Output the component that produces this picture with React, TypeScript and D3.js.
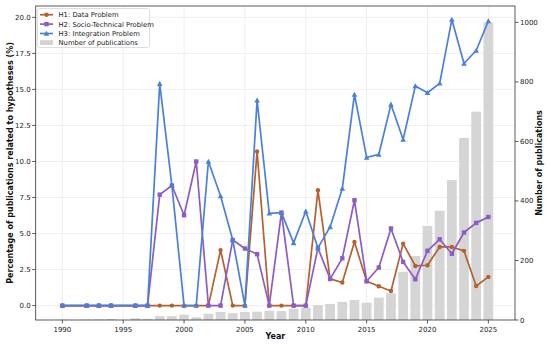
import React from "react";
import * as d3 from "d3";

const years = [1990, 1992, 1993, 1994, 1996, 1997, 1998, 1999, 2000, 2001, 2002, 2003, 2004, 2005, 2006, 2007, 2008, 2009, 2010, 2011, 2012, 2013, 2014, 2015, 2016, 2017, 2018, 2019, 2020, 2021, 2022, 2023, 2024, 2025];
const publications = [1, 1, 2, 3, 6, 4, 13, 13, 18, 9, 21, 27, 23, 27, 28, 31, 30, 38, 42, 50, 54, 61, 67, 58, 75, 90, 162, 215, 316, 367, 470, 612, 700, 1000];
const h1Data = [0, 0, 0, 0, 0, 0, 0, 0, 0, 0, 0, 3.85, 0, 0, 10.7, 0, 0, 0, 0, 8.0, 1.85, 1.6, 4.42, 1.69, 1.34, 1.01, 4.3, 2.75, 2.8, 4.07, 4.07, 3.8, 1.36, 1.99];
const h2Data = [0, 0, 0, 0, 0, 0, 7.7, 8.33, 6.27, 10.0, 0, 0, 4.55, 3.96, 3.57, 0, 6.45, 0, 0, 4.0, 1.85, 3.28, 7.31, 1.69, 2.64, 5.35, 3.03, 1.83, 3.8, 4.6, 3.6, 5.07, 5.74, 6.15];
const h3Data = [0, 0, 0, 0, 0, 0, 15.4, 8.33, 0, 0, 10.0, 7.6, 4.55, 0, 14.25, 6.4, 6.45, 4.35, 6.55, 4.0, 5.46, 8.12, 14.65, 10.28, 10.49, 13.96, 11.53, 15.23, 14.77, 15.42, 19.85, 16.8, 17.7, 19.75];

const seriesNames = ["H1: Data Problem", "H2: Socio-Technical Problem", "H3: Integration Problem"];
const seriesColors = ["#b5602f", "#8b5cc6", "#4a80d9"];
const seriesMarkers = ["circle", "square", "triangle"];
const barLabel = "Number of publications";
const xTicks = [1990, 1995, 2000, 2005, 2010, 2015, 2020, 2025];
const leftTicks = [0, 2.5, 5, 7.5, 10, 12.5, 15, 17.5, 20];
const rightTicks = [0, 200, 400, 600, 800, 1000];

const W = 550, H = 345;
const L = 35.7, R = 515, T = 6, B = 320;
const FONT = "DejaVu Sans, sans-serif";

function Marker({ type, x, y, color }: { type: string; x: number; y: number; color: string }) {
  if (type === "circle") return <circle cx={x} cy={y} r={2.2} fill={color} />;
  if (type === "square") return <rect x={x - 2.2} y={y - 2.2} width={4.4} height={4.4} fill={color} />;
  const s = 2.8;
  return <path d={`M${x},${y - s}L${x + s},${y + s * 0.8}L${x - s},${y + s * 0.8}Z`} fill={color} />;
}

export default function App() {
  const x = d3.scaleLinear().domain([1987.81, 2027.19]).range([L, R]);
  const yL = d3.scaleLinear().domain([-1.0, 20.79]).range([B, T]);
  const yR = d3.scaleLinear().domain([0, 1055]).range([B, T]);
  const bw = x(1990.8) - x(1990);
  const seriesData = [h1Data, h2Data, h3Data];
  const line = (arr: number[]) =>
    d3.line<number>().x((_, i) => x(years[i])).y((d) => yL(d))(arr) || "";

  return (
    <svg width={W} height={H} style={{ position: "absolute", left: 0, top: 0, background: "#fff" }} fontFamily={FONT}>
      {/* grid */}
      {xTicks.map((t) => (
        <line key={"gx" + t} x1={x(t)} x2={x(t)} y1={T} y2={B} stroke="#ebebeb" strokeWidth={0.8} />
      ))}
      {leftTicks.map((t) => (
        <line key={"gy" + t} x1={L} x2={R} y1={yL(t)} y2={yL(t)} stroke="#ebebeb" strokeWidth={0.8} />
      ))}
      {/* bars */}
      {years.map((yr, i) => (
        <rect key={"b" + yr} x={x(yr) - bw / 2} y={yR(publications[i])} width={bw} height={B - yR(publications[i])} fill="#d3d3d3" opacity={0.95} />
      ))}
      {/* lines */}
      {seriesData.map((arr, si) => (
        <g key={"s" + si}>
          <path d={line(arr)} fill="none" stroke={seriesColors[si]} strokeWidth={1.7} strokeLinejoin="round" />
          {arr.map((v, i) => (
            <Marker key={i} type={seriesMarkers[si]} x={x(years[i])} y={yL(v)} color={seriesColors[si]} />
          ))}
        </g>
      ))}
      {/* frame */}
      <rect x={L} y={T} width={R - L} height={B - T} fill="none" stroke="#333" strokeWidth={0.8} />
      {/* x ticks */}
      {xTicks.map((t) => (
        <g key={"xt" + t}>
          <line x1={x(t)} x2={x(t)} y1={B} y2={B + 3.5} stroke="#333" strokeWidth={0.8} />
          <text x={x(t)} y={B + 11.5} fontSize={7} textAnchor="middle" fill="#222">{t}</text>
        </g>
      ))}
      {/* left ticks */}
      {leftTicks.map((t) => (
        <g key={"lt" + t}>
          <line x1={L - 3.5} x2={L} y1={yL(t)} y2={yL(t)} stroke="#333" strokeWidth={0.8} />
          <text x={L - 5} y={yL(t) + 2.5} fontSize={7} textAnchor="end" fill="#222">{t.toFixed(1)}</text>
        </g>
      ))}
      {/* right ticks */}
      {rightTicks.map((t) => (
        <g key={"rt" + t}>
          <line x1={R} x2={R + 3.5} y1={yR(t)} y2={yR(t)} stroke="#333" strokeWidth={0.8} />
          <text x={R + 5} y={yR(t) + 2.5} fontSize={7} textAnchor="start" fill="#222">{t}</text>
        </g>
      ))}
      {/* axis titles */}
      <text x={(L + R) / 2} y={339} fontSize={8} fontWeight="bold" textAnchor="middle" fill="#111">Year</text>
      <text transform={`translate(12.5,${(T + B) / 2}) rotate(-90)`} fontSize={8} fontWeight="bold" textAnchor="middle" fill="#111">
        Percentage of publications related to hypotheses (%)
      </text>
      <text transform={`translate(541.5,${(T + B) / 2}) rotate(-90)`} fontSize={8} fontWeight="bold" textAnchor="middle" fill="#111">
        {barLabel}
      </text>
      {/* legend */}
      <g>
        <rect x={37.5} y={8.5} width={112} height={39} rx={2} fill="#fff" fillOpacity={0.85} stroke="#d0d0d0" strokeWidth={0.7} />
        {seriesNames.map((n, i) => {
          const ly = 14.7 + i * 9.4;
          return (
            <g key={"lg" + i}>
              <line x1={40} x2={53} y1={ly} y2={ly} stroke={seriesColors[i]} strokeWidth={1.7} />
              <Marker type={seriesMarkers[i]} x={46.5} y={ly} color={seriesColors[i]} />
              <text x={58.5} y={ly + 2.4} fontSize={6.8} fill="#222">{n}</text>
            </g>
          );
        })}
        <rect x={40} y={40.2} width={13} height={4.8} fill="#d3d3d3" />
        <text x={58.5} y={45.1} fontSize={6.8} fill="#222">{barLabel}</text>
      </g>
    </svg>
  );
}
